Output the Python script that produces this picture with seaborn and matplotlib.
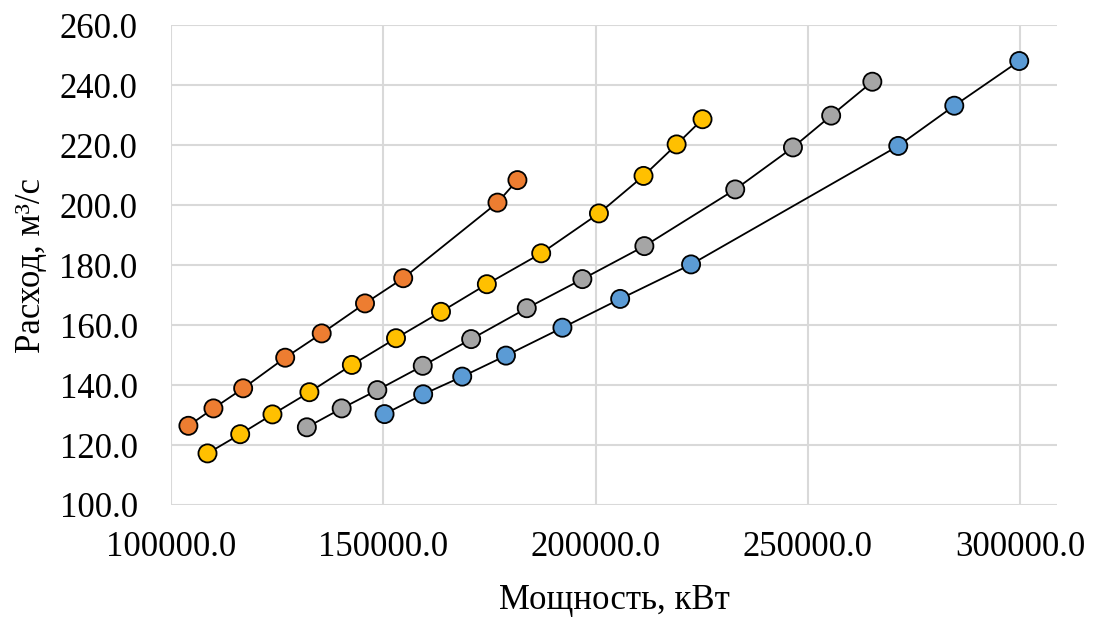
import pandas as pd
import seaborn as sns
import matplotlib.pyplot as plt
from matplotlib.ticker import FuncFormatter, MultipleLocator

# Power (kW) and flow (m3/s) for the four curves.
orange_power = [104100, 110000, 117000, 126900, 135500, 145700, 154700, 176900, 181600]
orange_flow = [126.4, 132.2, 138.9, 149.1, 157.2, 167.2, 175.6, 200.8, 208.3]

yellow_power = [108600, 116300, 123900, 132600, 142600, 153000, 163600, 174400,
                187200, 200800, 211300, 219100, 225200]
yellow_flow = [117.2, 123.6, 130.2, 137.6, 146.7, 155.6, 164.4, 173.6,
               183.9, 197.2, 209.7, 220.2, 228.6]

gray_power = [132000, 140200, 148600, 159300, 170700, 183800, 196900, 211500,
              232900, 246500, 255500, 265200]
gray_flow = [125.9, 132.2, 138.3, 146.4, 155.3, 165.6, 175.3, 186.3,
             205.2, 219.2, 229.8, 241.1]

blue_power = [150300, 159400, 168600, 178900, 192200, 205800, 222500, 271300, 284500, 299800]
blue_flow = [130.3, 136.9, 142.8, 149.8, 159.1, 168.7, 180.2, 219.7, 233.1, 248.0]

series_names = ["s1", "s2", "s3", "s4"]
series_colors = ["#ED7D31", "#FFC000", "#A5A5A5", "#5B9BD5"]

frames = []
for name, p, q in zip(series_names,
                      [orange_power, yellow_power, gray_power, blue_power],
                      [orange_flow, yellow_flow, gray_flow, blue_flow]):
    frames.append(pd.DataFrame({"power": p, "flow": q, "series": name}))
df = pd.concat(frames, ignore_index=True)

sns.set_style("white")
plt.rcParams["font.family"] = ["Liberation Serif", "DejaVu Serif"]
plt.rcParams["text.color"] = "black"
plt.rcParams["axes.labelcolor"] = "black"
plt.rcParams["xtick.color"] = "black"
plt.rcParams["ytick.color"] = "black"

fig = plt.figure(figsize=(10.94, 6.21), dpi=100)
ax = fig.add_axes([0.1563, 0.1868, 0.8099, 0.7729])

# Black connecting lines
sns.lineplot(data=df, x="power", y="flow", units="series", estimator=None,
             sort=False, color="black", linewidth=1.3, ax=ax, zorder=2)
# Coloured markers
sns.scatterplot(data=df, x="power", y="flow", hue="series",
                palette=dict(zip(series_names, series_colors)),
                s=170, edgecolor="black", linewidth=1.3, legend=False,
                ax=ax, zorder=3)

ax.set_xlim(100000, 308700)
ax.set_ylim(100, 260)
ax.xaxis.set_major_locator(MultipleLocator(50000))
ax.yaxis.set_major_locator(MultipleLocator(20))
ax.xaxis.set_major_formatter(FuncFormatter(lambda v, _: f"{v:.1f}"))
ax.yaxis.set_major_formatter(FuncFormatter(lambda v, _: f"{v:.1f}"))

ax.grid(True, color="#D9D9D9", linewidth=1.5)
ax.set_axisbelow(True)
for s in ax.spines.values():
    s.set_visible(False)

ax.tick_params(axis="both", length=0, labelsize=25, labelcolor="black")
ax.tick_params(axis="y", pad=24)
ax.tick_params(axis="x", pad=19)

ax.set_xlabel("Мощность, кВт", fontsize=25, labelpad=14, color="black")
ax.set_ylabel("Расход, м³/с", fontsize=25, labelpad=8, color="black")

fig.savefig("out.png", dpi=100)
